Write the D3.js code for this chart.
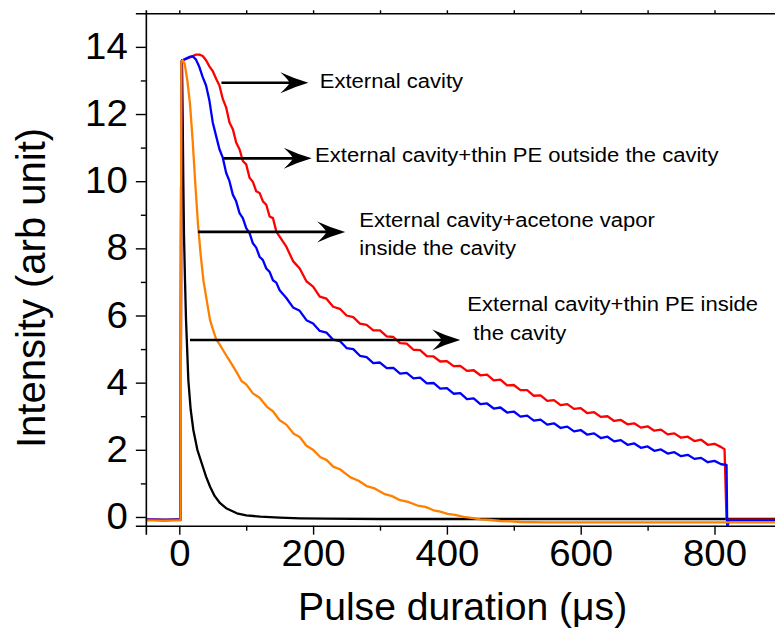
<!DOCTYPE html>
<html><head><meta charset="utf-8">
<script src="https://cdn.jsdelivr.net/npm/d3@7"></script>
<style>html,body{margin:0;padding:0;background:#fff;} svg{display:block;}</style>
</head><body>
<svg id="chart" width="775" height="634"></svg>
<script>
// ---- data (time in µs, intensity in arb. unit) ----
const blackSeries = [[-50,-0.08],[-25,-0.09],[0,-0.08],[2,-0.08],[3,13.55],[4,13.6],[5,12.0],[6,10.0],[7,8.4],[8.5,7.07],[10,5.9],[13.5,4.08],[17,3.2],[21,2.59],[27,2.0],[33.5,1.6],[40,1.2],[46,0.9],[53,0.62],[61,0.41],[70,0.26],[86,0.11],[100,0.05],[121,0.01],[150,-0.02],[181,-0.04],[220,-0.05],[300,-0.06],[400,-0.06],[500,-0.06],[600,-0.06],[700,-0.06],[800,-0.06],[900,-0.06]];

const orangeSeries = [[-50,-0.1],[-25,-0.11],[0,-0.1],[2,-0.1],[3,13.55],[5,13.6],[8,13.5],[12,13.0],[16,12.3],[20,11.2],[24,9.9],[28,8.7],[32,7.8],[36,7.05],[41,6.45],[46,5.86],[50,5.6],[55,5.3],[60,5.15],[66,4.95],[72,4.75],[80,4.5],[86,4.3],[93,4.05],[100,3.95],[110,3.68],[120,3.55],[131,3.28],[140,3.15],[150,2.88],[160,2.75],[171,2.48],[180,2.38],[190,2.12],[200,2.0],[211,1.78],[220,1.7],[230,1.5],[240,1.42],[256,1.18],[268,1.08],[280,0.92],[292,0.85],[306,0.69],[318,0.62],[330,0.5],[342,0.45],[356,0.34],[368,0.3],[380,0.2],[390,0.16],[401,0.09],[412,0.06],[425,0.0],[437,-0.03],[450,-0.07],[465,-0.09],[480,-0.12],[495,-0.13],[510,-0.15],[550,-0.16],[600,-0.16],[700,-0.16],[800,-0.16],[900,-0.16]];

const redSeries = [[-50,-0.08],[-20,-0.09],[0,-0.08],[2,-0.08],[3,13.55],[5,13.6],[10,13.64],[15,13.68],[20,13.73],[25,13.77],[30,13.77],[35,13.73],[40,13.6],[45,13.42],[50,13.28],[55,13.05],[60,12.85],[65,12.45],[70,12.2],[75,11.75],[80,11.55],[85,11.15],[90,10.95],[95,10.6],[100,10.5],[105,10.1],[110,9.98],[115,9.7],[120,9.65],[125,9.4],[130,9.3],[135,8.95],[140,8.9],[145,8.5],[150,8.35],[160,8.05],[170,7.62],[180,7.4],[190,7.02],[200,6.86],[210,6.56],[220,6.5],[230,6.26],[240,6.2],[250,6.0],[260,5.95],[270,5.76],[280,5.72],[290,5.56],[300,5.56],[310,5.38],[320,5.36],[330,5.18],[340,5.16],[350,4.98],[360,4.97],[370,4.79],[380,4.78],[390,4.63],[400,4.64],[410,4.49],[420,4.5],[430,4.35],[440,4.37],[450,4.22],[460,4.24],[470,4.07],[480,4.09],[490,3.92],[500,3.93],[510,3.78],[520,3.78],[530,3.61],[540,3.62],[550,3.46],[560,3.48],[570,3.33],[580,3.36],[590,3.22],[600,3.24],[610,3.09],[620,3.12],[630,2.98],[640,3.0],[650,2.86],[660,2.89],[670,2.76],[680,2.79],[690,2.66],[700,2.7],[710,2.57],[720,2.6],[730,2.46],[740,2.49],[750,2.36],[760,2.39],[770,2.26],[780,2.3],[790,2.15],[800,2.18],[810,2.08],[815,2.02],[818,-0.08],[850,-0.08],[900,-0.08]];

const blueSeries = [[-50,-0.08],[-20,-0.09],[0,-0.08],[2,-0.08],[3,13.55],[5,13.6],[10,13.65],[15,13.7],[20,13.72],[25,13.62],[30,13.4],[35,13.1],[40,12.85],[45,12.4],[50,11.75],[55,11.35],[60,10.95],[65,10.7],[70,10.25],[75,10.0],[80,9.6],[85,9.4],[90,9.05],[95,8.9],[100,8.6],[105,8.45],[110,8.15],[115,8.02],[120,7.75],[125,7.65],[130,7.4],[135,7.3],[140,7.05],[145,6.98],[150,6.75],[160,6.52],[170,6.24],[180,6.14],[190,5.86],[200,5.76],[210,5.54],[220,5.49],[230,5.28],[240,5.24],[250,5.03],[260,5.0],[270,4.8],[280,4.76],[290,4.58],[300,4.6],[310,4.43],[320,4.44],[330,4.27],[340,4.29],[350,4.13],[360,4.15],[370,3.98],[380,3.99],[390,3.82],[400,3.84],[410,3.67],[420,3.69],[430,3.51],[440,3.53],[450,3.36],[460,3.38],[470,3.23],[480,3.26],[490,3.11],[500,3.14],[510,2.99],[520,3.02],[530,2.87],[540,2.9],[550,2.75],[560,2.79],[570,2.65],[580,2.69],[590,2.55],[600,2.59],[610,2.45],[620,2.49],[630,2.35],[640,2.39],[650,2.25],[660,2.29],[670,2.15],[680,2.19],[690,2.06],[700,2.1],[710,1.97],[720,2.01],[730,1.89],[740,1.93],[750,1.81],[760,1.85],[770,1.73],[780,1.76],[790,1.63],[800,1.67],[810,1.57],[818,1.55],[819,-0.3],[822,-0.1],[900,-0.1]];

const xMajorTicks = [0,200,400,600,800];
const xMinorTicks = [100,300,500,700];
const xTopTicks = [0,100,200,300,400,500,600,700,800];
const yMajorTicks = [0,2,4,6,8,10,12,14];
const yMinorTicks = [1,3,5,7,9,11,13];
const xTitle = "Pulse duration (\u03bcs)";
const yTitle = "Intensity (arb unit)";

const annotationLabels = [
  ["External cavity"],
  ["External cavity+thin PE outside the cavity"],
  ["External cavity+acetone vapor", "inside the cavity"],
  ["External cavity+thin PE inside", "the cavity"]
];
// arrow: [y level, start time, tip time] ; label anchor: [time, baseline value(s)], second-line x offset
const annotationArrows = [[12.93,63,193],[10.68,66,198],[8.49,28,248],[5.27,16,420]];
const annotationTextAt = [[210,[12.79]],[203,[10.57]],[269,[8.64,7.80]],[430.5,[6.13,5.27]]];
const annotationSecondX = [null,null,269,439.5];

// ---- layout ----
const svg = d3.select("#chart");
const FONT = "'Liberation Sans', Arial, Helvetica, sans-serif";
const x = d3.scaleLinear().domain([-50, 900]).range([145.85, 781.4]);
const y = d3.scaleLinear().domain([-0.26, 15]).range([525.7, 13.3]);
const [xl, xr] = x.range(), [yb, yt] = y.range();

svg.append("defs").append("clipPath").attr("id","clip")
  .append("rect").attr("x", xl).attr("y", yt).attr("width", xr - xl).attr("height", yb - yt);

// ---- series ----
const line = d3.line().x(d => x(d[0])).y(d => y(d[1]));
const seriesList = [
  {data: blackSeries, color: "#000000"},
  {data: redSeries, color: "#ff0000"},
  {data: blueSeries, color: "#0000ff"},
  {data: orangeSeries, color: "#ff8000"}
];
const gLines = svg.append("g").attr("clip-path", "url(#clip)");
seriesList.forEach(s => {
  gLines.append("path").datum(s.data).attr("d", line)
    .attr("fill", "none").attr("stroke", s.color).attr("stroke-width", 2.3)
    .attr("stroke-linejoin", "round");
});

// ---- axes ----
function styleAxis(g) {
  g.select(".domain").attr("stroke", "#000").attr("stroke-width", 1.6);
  g.selectAll(".tick line").attr("stroke", "#000").attr("stroke-width", 1.4);
}
// bottom
const gxMinor = svg.append("g").attr("transform", `translate(0,${yb})`)
  .call(d3.axisBottom(x).tickValues(xMinorTicks).tickSize(5).tickFormat(""));
styleAxis(gxMinor); gxMinor.select(".domain").remove();
const gx = svg.append("g").attr("transform", `translate(0,${yb})`)
  .call(d3.axisBottom(x).tickValues(xMajorTicks).tickSize(9).tickPadding(6).tickFormat(d3.format("d")));
styleAxis(gx);
gx.selectAll(".tick text").attr("font-family", FONT).attr("font-size", 36).attr("fill", "#000")
  .attr("transform", "scale(1.066,1)");
// top
const gTop = svg.append("g").attr("transform", `translate(0,${yt})`)
  .call(d3.axisTop(x).tickValues(xTopTicks).tickSize(3).tickFormat(""));
styleAxis(gTop);
// left
const gyMinor = svg.append("g").attr("transform", `translate(${xl},0)`)
  .call(d3.axisLeft(y).tickValues(yMinorTicks).tickSize(5).tickFormat(""));
styleAxis(gyMinor); gyMinor.select(".domain").remove();
const gy = svg.append("g").attr("transform", `translate(${xl},0)`)
  .call(d3.axisLeft(y).tickValues(yMajorTicks).tickSize(10).tickPadding(7).tickFormat(d3.format("d")));
styleAxis(gy);
gy.selectAll(".tick text").attr("font-family", FONT).attr("font-size", 36).attr("fill", "#000")
  .attr("transform", "scale(1.066,1)");

// ---- titles ----
svg.append("text").attr("font-family", FONT).attr("font-size", 38).attr("fill", "#000")
  .attr("text-anchor", "middle")
  .attr("transform", `translate(${(xl + xr) / 2 - 1},620) scale(1.03,1)`)
  .text(xTitle);
svg.append("text").attr("font-family", FONT).attr("font-size", 40).attr("fill", "#000")
  .attr("text-anchor", "middle")
  .attr("transform", `translate(45,288) rotate(-90)`)
  .text(yTitle);

// ---- annotations ----
const gAnn = svg.append("g");
annotationArrows.forEach((a, i) => {
  const [lv, t0, t1] = a;
  const yy = y(lv), x0 = x(t0), x1 = x(t1);
  gAnn.append("line").attr("x1", x0).attr("x2", x1 - 18).attr("y1", yy).attr("y2", yy)
    .attr("stroke", "#000").attr("stroke-width", 2.6);
  gAnn.append("path")
    .attr("d", "M0,0 Q-14,-4 -28,-10.5 Q-19,-2 -19,0 Q-19,2 -28,10.5 Q-14,4 0,0 Z")
    .attr("transform", `translate(${x1},${yy})`).attr("fill", "#000");
  const [tx, tys] = annotationTextAt[i];
  annotationLabels[i].forEach((lbl, j) => {
    const px = (j === 1 && annotationSecondX[i] != null) ? x(annotationSecondX[i]) : x(tx);
    gAnn.append("text").attr("font-family", FONT).attr("font-size", 19.5).attr("fill", "#000")
      .attr("transform", `translate(${px},${y(tys[j])}) scale(1.13,1)`)
      .text(lbl);
  });
});
</script>
</body></html>
